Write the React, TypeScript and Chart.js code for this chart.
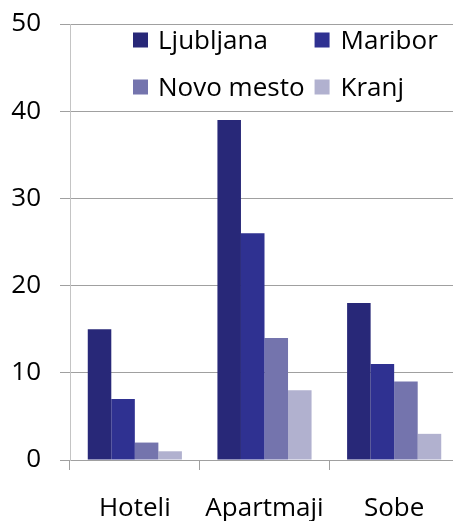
import React, { useEffect, useRef } from "react";
import { Chart, registerables } from "chart.js";

Chart.register(...registerables);

const categories = ["Hoteli", "Apartmaji", "Sobe"];
const seriesNames = ["Ljubljana", "Maribor", "Novo mesto", "Kranj"];
const ljubljana = [15, 39, 18];
const maribor = [7, 26, 11];
const novoMesto = [2, 14, 9];
const kranj = [1, 8, 3];
const seriesColors = ["#282878", "#2F3191", "#7474AD", "#B1B1CF"];
const yTicks = { min: 0, max: 50, step: 10 };

const FONT = '"Open Sans", sans-serif';
const FONT_SIZE = 26;

const legendPlugin = {
  id: "gridLegend",
  afterDraw(chart: any) {
    const ctx = chart.ctx;
    const area = chart.chartArea;
    const ds = chart.data.datasets;
    ctx.save();
    ctx.font = `${FONT_SIZE}px ${FONT}`;
    ctx.textBaseline = "alphabetic";
    ctx.textAlign = "left";
    ctx.fillStyle = "#000";
    const box = 15;
    const col1Box = area.left + 63;
    const textGap = 25;
    const col1Text = col1Box + textGap;
    const w0 = ctx.measureText(ds[0].label).width;
    const w2 = ctx.measureText(ds[2].label).width;
    const col2Box = col1Text + Math.max(w0, w2) + 10;
    const col2Text = col2Box + textGap + 1;
    const rows = [40, 87];
    const items = [
      { i: 0, bx: col1Box, tx: col1Text, r: 0 },
      { i: 1, bx: col2Box, tx: col2Text, r: 0 },
      { i: 2, bx: col1Box, tx: col1Text, r: 1 },
      { i: 3, bx: col2Box, tx: col2Text, r: 1 },
    ];
    for (const it of items) {
      const cy = rows[it.r];
      ctx.fillStyle = ds[it.i].backgroundColor;
      ctx.fillRect(it.bx, cy - box / 2, box, box);
      ctx.fillStyle = "#000";
      ctx.fillText(ds[it.i].label, it.tx, cy + 8.5);
    }
    ctx.restore();
  },
};

export default function App() {
  const ref = useRef<HTMLCanvasElement | null>(null);
  useEffect(() => {
    let chart: Chart | null = null;
    let cancelled = false;
    const build = () => {
      if (cancelled || !ref.current) return;
      const data = [ljubljana, maribor, novoMesto, kranj];
      chart = new Chart(ref.current, {
        type: "bar",
        data: {
          labels: categories,
          datasets: seriesNames.map((name, i) => ({
            label: name,
            data: data[i],
            backgroundColor: seriesColors[i],
            borderWidth: 0,
            categoryPercentage: 0.726,
            barPercentage: 1.0,
          })),
        },
        options: {
          responsive: false,
          animation: false,
          devicePixelRatio: 1,
          layout: { padding: { top: 24, right: 11, bottom: 0, left: 0 } },
          plugins: { legend: { display: false }, tooltip: { enabled: false } },
          scales: {
            x: {
              grid: {
                drawOnChartArea: false,
                drawTicks: true,
                tickLength: 10,
                color: "#a0a0a0",
                offset: true,
              },
              border: { color: "#a0a0a0", width: 1 },
              ticks: {
                color: "#000",
                font: { family: FONT, size: FONT_SIZE },
                padding: 23,
                maxRotation: 0,
              },
              afterFit(scale: any) {
                scale.height = 85;
                scale.paddingLeft = 0;
                scale.paddingRight = 0;
              },
            },
            y: {
              min: yTicks.min,
              max: yTicks.max,
              ticks: {
                stepSize: yTicks.step,
                color: "#000",
                font: { family: FONT, size: FONT_SIZE },
                padding: 19,
              },
              grid: { color: "#a0a0a0", tickLength: 10, drawTicks: true },
              border: { color: "#c4c4c4", width: 1 },
              afterFit(scale: any) {
                scale.width = 70;
                scale.paddingTop = 0;
                scale.paddingBottom = 0;
              },
            },
          },
        },
        plugins: [legendPlugin],
      });
    };
    if ((document as any).fonts && (document as any).fonts.load) {
      (document as any).fonts
        .load(`${FONT_SIZE}px "Open Sans"`)
        .then(build, build);
    } else {
      build();
    }
    return () => {
      cancelled = true;
      if (chart) chart.destroy();
    };
  }, []);
  return (
    <div
      style={{
        position: "fixed",
        left: 0,
        top: 0,
        width: 453,
        height: 521,
        overflow: "hidden",
        background: "#fff",
      }}
    >
      <canvas ref={ref} width={470} height={545} style={{ display: "block" }} />
    </div>
  );
}
